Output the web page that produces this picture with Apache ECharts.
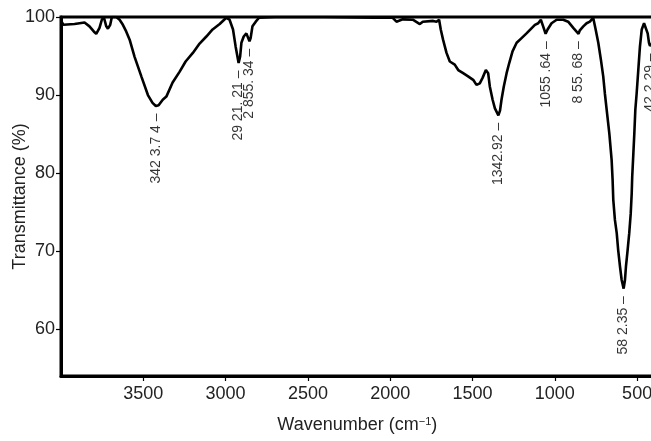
<!DOCTYPE html>
<html><head><meta charset="utf-8">
<script src="https://cdn.jsdelivr.net/npm/echarts@6/dist/echarts.min.js"></script>
<style>html,body{margin:0;padding:0;background:#fff}#c{width:651px;height:441px}</style>
</head><body><div id="c"></div>
<script>
// FTIR spectrum (wavenumber in cm^-1, transmittance in %)
const wavenumber = [3999, 3985, 3918, 3857, 3827, 3801, 3786, 3766, 3752, 3740, 3725, 3715, 3701, 3691, 3664, 3644, 3624, 3604, 3583, 3553, 3512, 3472, 3444, 3424, 3407, 3382, 3360, 3322, 3279, 3243, 3199, 3158, 3117, 3079, 3036, 2996,
  2976, 2955, 2939, 2921, 2912, 2904, 2890, 2874, 2855, 2848, 2837, 2817, 2797, 2700, 2400, 2100, 1985,
  1962, 1924, 1863, 1820, 1802, 1739, 1719, 1703, 1693, 1679, 1668, 1658, 1638, 1608, 1587, 1577, 1557, 1527, 1496, 1476, 1456, 1439, 1419, 1405, 1395, 1378, 1364, 1343, 1333, 1324, 1310, 1293, 1277, 1257, 1232, 1202, 1172,
  1162, 1121, 1101, 1085, 1071, 1056, 1044, 1020, 989, 949, 919, 888, 856, 848, 827, 807, 787, 767, 752, 736, 720, 706, 696, 685, 669, 655, 649, 645, 635, 624, 615, 604, 594, 582,
  574, 568, 558, 548, 539, 533, 530, 523, 517, 511, 503, 493, 483, 472, 458, 448, 436, 428, 422, 410, 400];
const transmittance = [99.5, 99.0, 99.1, 99.3, 98.8, 98.15, 97.85, 98.6, 99.65, 100, 98.8, 98.5, 99.0, 100, 100, 99.65, 99.0, 98.15, 97.1, 94.9, 92.4, 90.0, 89.0, 88.6, 88.7, 89.4, 89.8, 91.6, 93.0, 94.3, 95.4, 96.6, 97.5, 98.4, 99.1, 99.9,
  99.65, 98.4, 96.2, 94.1, 94.9, 96.7, 97.5, 97.9, 96.9, 97.3, 98.8, 99.4, 99.9, 100, 100, 99.9, 99.9,
  99.4, 99.7, 99.65, 99.1, 99.4, 99.5, 99.4, 99.65, 98.4, 97.1, 96.2, 95.4, 94.3, 93.9, 93.2, 93.45, 92.8, 92.4, 91.95, 91.3, 91.5, 92.2, 93.2, 92.8, 91.1, 89.4, 88.3, 87.4, 88.0, 89.4, 91.1, 92.8, 94.1, 95.6, 96.7, 97.3, 97.9,
  98.15, 99.0, 99.2, 99.65, 98.8, 97.85, 98.4, 99.2, 99.65, 99.65, 99.4, 98.6, 97.85, 98.3, 98.8, 99.2, 99.4, 99.9, 98.4, 96.7, 94.5, 92.4, 90.2, 88.1, 85.1, 81.7, 79.1, 76.6, 74.0, 72.3, 70.1, 68.0, 66.3, 65.2,
  66.3, 68.0, 70.1, 72.3, 74.8, 77.4, 79.5, 82.5, 85.1, 88.1, 90.2, 93.2, 96.2, 98.4, 99.2, 99.0, 97.9, 96.7, 96.3, 96.6, 97.2];

const peakWavenumber = [3423.74, 2921.21, 2855.34, 1342.92, 1055.64, 855.68, 582.35, 422.29];
const peakTransmittance = [88.6, 94.1, 96.9, 87.4, 97.85, 97.85, 65.2, 96.3];
const peakLabels = ['342 3.7 4', '29 21. 21', '2 855. 34', '1342.92', '1055 .64', '8 55. 68', '58 2.35', '42 2.29'];

const xTickValues = [500, 1000, 1500, 2000, 2500, 3000, 3500];
const yTickValues = [60, 70, 80, 90, 100];

const font = '"Liberation Sans", Arial, Helvetica, sans-serif';
const chart = echarts.init(document.getElementById('c'), null, {renderer: 'canvas'});
chart.setOption({
  animation: false,
  backgroundColor: '#fff',
  grid: {left: 61, top: 17, width: 592.6, height: 359, outerBoundsMode: 'none', containLabel: false,
    show: true, borderColor: '#000', borderWidth: 3, backgroundColor: 'transparent'},
  xAxis: {
    type: 'value', inverse: true, min: 400, max: 4000,
    name: 'Wavenumber (cm{sup|−1})', nameLocation: 'middle', nameGap: 40, nameMoveOverlap: false,
    nameTextStyle: {fontSize: 18, color: '#222', fontFamily: font,
      rich: {sup: {fontSize: 11, verticalAlign: 'top', color: '#222', fontFamily: font}}},
    axisLine: {show: true, onZero: false, lineStyle: {color: '#000', width: 3}},
    axisTick: {show: true, customValues: xTickValues, length: 5, lineStyle: {color: '#000', width: 1.2}},
    axisLabel: {customValues: xTickValues, formatter: v => String(v), fontSize: 18, color: '#222', margin: 9, fontFamily: font},
    splitLine: {show: false}
  },
  yAxis: {
    type: 'value', min: 54, max: 100,
    name: 'Transmittance (%)', nameLocation: 'middle', nameGap: 32, nameMoveOverlap: false,
    nameTextStyle: {fontSize: 18, color: '#222', fontFamily: font},
    axisLine: {show: true, onZero: false, lineStyle: {color: '#000', width: 3}},
    axisTick: {show: true, customValues: yTickValues, length: 5, lineStyle: {color: '#000', width: 1.2}},
    axisLabel: {customValues: yTickValues, formatter: v => String(v), fontSize: 18, color: '#222', margin: 6, fontFamily: font},
    splitLine: {show: false}
  },
  series: [
    {
      type: 'line', data: wavenumber.map((w, i) => [w, transmittance[i]]),
      showSymbol: false, smooth: false, clip: true,
      lineStyle: {color: '#000', width: 2.6}, z: 3
    },
    {
      type: 'scatter', data: peakWavenumber.map((w, i) => [w, peakTransmittance[i]]),
      symbolSize: 1, itemStyle: {color: 'rgba(0,0,0,0)'}, silent: true, z: 4,
      labelLayout: {hideOverlap: false},
      label: {
        show: true, position: 'bottom', distance: 7, rotate: 90, align: 'right', verticalAlign: 'middle',
        fontSize: 14, color: '#000', fontFamily: font,
        formatter: p => peakLabels[p.dataIndex] + ' –'
      }
    }
  ]
});
</script></body></html>
